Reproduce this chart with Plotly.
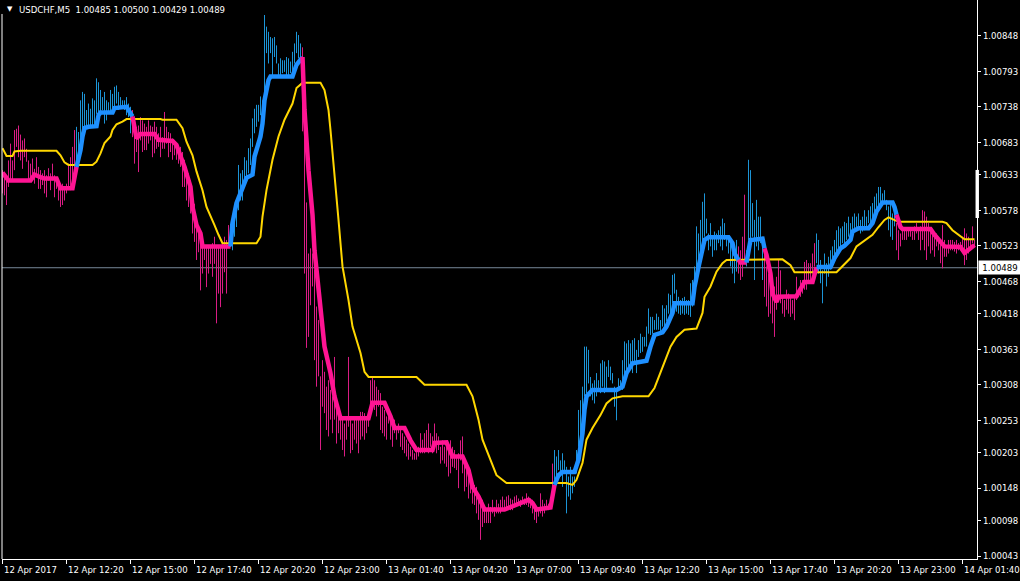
import bisect
import plotly.graph_objects as go

# USDCHF M5, prices in points above 1.00000 (1 point = 0.00001)

# bar highs / lows, one value per M5 bar (index 0 = 12 Apr 09:40)
bar_hi = [640, 637, 632, 655, 681, 655, 702, 704, 709, 695,
          686, 689, 673, 655, 650, 658, 642, 660, 645, 640,
          635, 640, 632, 643, 635, 650, 632, 627, 624, 619,
          619, 614, 619, 650, 660, 676, 702, 707, 699, 748,
          761, 758, 733, 743, 735, 751, 748, 782, 776, 764,
          753, 761, 748, 745, 764, 758, 769, 771, 761, 753,
          748, 748, 753, 743, 738, 733, 712, 707, 709, 722,
          717, 712, 707, 717, 709, 707, 715, 707, 697, 707,
          691, 730, 707, 699, 697, 689, 686, 681, 673, 676,
          668, 656, 645, 635, 624, 604, 588, 552, 542, 537,
          521, 524, 521, 524, 521, 527, 537, 521, 524, 521,
          529, 537, 532, 555, 557, 547, 562, 588, 648, 635,
          640, 660, 655,
          674, 689, 720, 735, 741, 741, 754, 748, 880, 862,
          854, 846, 844, 846, 833, 805, 813, 810, 810, 815,
          813, 808, 823, 836, 854, 849, 836, 830, 760, 590,
          511, 519, 511, 486, 429, 408, 321, 346, 328, 305,
          315, 300, 290, 351, 269, 264, 254, 254, 248, 254,
          351, 254, 248, 254, 259, 254, 266, 266, 264, 254,
          259, 315, 321, 315, 305, 300, 295, 274, 269, 259,
          264, 254, 248, 254, 243, 248, 243, 233, 228, 223,
          217, 212, 207, 202, 207, 212, 233, 223, 233, 238,
          248, 233, 228, 248, 233, 228,
          212, 222, 212, 212, 217, 222, 212, 207, 197, 202,
          222, 228, 191, 186, 181, 176, 161, 153, 150, 140,
          135, 130, 119, 114, 124, 119, 130, 119, 130, 124,
          130, 135, 130, 135, 137, 132, 130, 135, 137, 132,
          130, 135, 132, 140, 135, 132, 130, 119, 119, 114,
          140, 130, 124, 130, 124, 130, 186, 207, 197, 207,
          191, 202, 191, 181, 166, 181, 166, 166, 207,
          269, 284, 305, 367, 367, 362, 320, 310, 315, 326,
          315, 341, 346, 344, 336, 346, 336, 326, 305, 300,
          318, 315, 346, 375, 372, 377, 372, 377, 380, 362,
          377, 387, 382, 382, 398, 426, 413, 413, 408, 418,
          413, 408, 431, 426, 431, 449, 447, 478, 480, 455,
          444, 439, 442, 444, 439, 439,
          465, 470, 491, 553, 542, 563, 591, 604, 565, 542,
          558, 537, 545, 542, 547, 553, 565, 558, 537, 532,
          527, 522, 516, 532, 522, 516, 537, 602, 516, 656,
          640, 589, 563, 594, 568, 568, 537, 516, 491, 480,
          470, 444, 460, 475, 501, 485, 444, 439, 455, 449,
          444, 439, 444, 475, 455, 470, 470, 498, 501, 496,
          496, 511, 527, 542, 532, 501, 485, 511, 496, 506,
          516, 522, 532, 547, 553, 550, 553, 560, 558, 568,
          558, 568, 573, 568, 573, 563, 568, 578, 568, 578,
          584, 589, 599, 604, 614, 614, 604, 609, 594, 584,
          589, 573, 584, 558, 547, 542, 547, 550, 547, 550,
          547, 545, 553, 558, 547, 553, 578, 576, 568, 558,
          547, 547, 537, 542, 537, 532, 555, 532, 522, 532,
          532, 532, 529, 532, 527, 529, 537, 550, 542, 537,
          532, 553, 532]

bar_lo = [604, 601, 586, 614, 622, 624, 640, 676, 660, 655,
          642, 660, 653, 624, 622, 630, 619, 630, 611, 611,
          617, 604, 598, 624, 609, 624, 598, 611, 593, 583,
          586, 593, 604, 609, 609, 611, 624, 645, 650, 671,
          691, 707, 707, 707, 707, 707, 709, 727, 727, 727,
          733, 712, 717, 727, 730, 735, 738, 743, 733, 738,
          735, 733, 725, 722, 697, 691, 650, 668, 637, 686,
          668, 671, 671, 681, 686, 660, 666, 673, 676, 660,
          673, 673, 681, 660, 668, 656, 663, 656, 650, 645,
          614, 614, 593, 583, 573, 542, 529, 501, 513, 454,
          480, 501, 459, 480, 495, 475, 495, 403, 449, 428,
          449, 482, 449, 521, 521, 516, 537, 552, 578, 593,
          593, 614, 624,
          635, 648, 676, 697, 707, 715, 725, 712, 748, 821,
          805, 821, 785, 815, 805, 785, 787, 790, 792, 787,
          785, 790, 785, 805, 821, 813, 815, 700, 480, 365,
          382, 431, 460, 346, 305, 321, 207, 274, 264, 238,
          228, 254, 233, 254, 217, 233, 223, 207, 197, 223,
          243, 202, 207, 223, 217, 202, 223, 228, 223, 233,
          243, 274, 274, 269, 259, 274, 238, 233, 228, 223,
          248, 223, 212, 233, 223, 233, 212, 207, 202, 197,
          192, 197, 192, 192, 192, 197, 202, 202, 202, 207,
          202, 212, 202, 212, 202, 207,
          186, 191, 186, 181, 166, 171, 181, 179, 176, 148,
          191, 171, 143, 150, 132, 140, 124, 122, 109, 99,
          68, 88, 94, 94, 94, 94, 109, 104, 109, 109,
          109, 114, 114, 114, 119, 114, 114, 119, 119, 122,
          119, 124, 122, 122, 119, 117, 109, 99, 94, 104,
          109, 104, 109, 114, 114, 122, 150, 161, 166, 176,
          166, 150, 171, 109, 135, 130, 140, 150, 171,
          212, 222, 243, 290, 295, 310, 290, 284, 279, 290,
          300, 295, 305, 295, 300, 320, 315, 310, 274, 253,
          300, 302, 300, 315, 326, 336, 331, 326, 341, 326,
          351, 357, 359, 367, 367, 387, 385, 387, 393, 393,
          393, 387, 398, 398, 406, 418, 418, 434, 449, 421,
          418, 416, 418, 416, 418, 416,
          413, 429, 444, 475, 485, 491, 522, 537, 542, 516,
          522, 506, 516, 516, 527, 522, 516, 532, 522, 511,
          491, 480, 465, 483, 480, 470, 475, 496, 491, 532,
          532, 537, 470, 522, 516, 527, 470, 444, 429, 413,
          418, 403, 382, 424, 444, 434, 418, 413, 424, 418,
          413, 418, 408, 439, 444, 444, 449, 455, 455, 465,
          470, 480, 491, 496, 480, 465, 434, 480, 460, 475,
          486, 491, 501, 511, 516, 522, 527, 527, 532, 537,
          537, 542, 547, 547, 550, 542, 545, 547, 553, 558,
          555, 563, 568, 573, 578, 584, 586, 589, 578, 547,
          537, 532, 553, 516, 501, 522, 532, 532, 532, 537,
          537, 532, 532, 542, 532, 516, 532, 516, 501, 522,
          511, 516, 506, 522, 516, 496, 488, 506, 506, 511,
          516, 516, 514, 511, 516, 516, 516, 493, 501, 511,
          516, 527, 522]

# step trend line: vertices (bar index, points), split in runs up / down
sig_i = [0, 3, 14, 16, 19, 21, 27, 29, 35, 36,
         37, 39, 40, 41, 43, 47, 48, 49, 55, 56, 62, 64,
         65, 67, 69, 76, 78, 85, 87, 90, 91, 94, 95, 97, 99, 100,
         114, 115, 117, 120, 122, 125, 126, 129, 130, 131, 133, 134, 145, 147,
         150, 151, 153, 155, 156, 157, 159, 161, 164, 166, 169, 183, 185, 191, 194, 196, 201, 204,
         207, 215, 216, 222, 225, 230, 233, 235, 238, 241, 251, 255, 263, 265, 267, 274, 275,
         276, 278, 280, 286, 288, 290, 291, 292, 295, 307, 310, 312, 315, 322, 324, 326, 330, 332,
         335, 336, 345, 346, 348, 350, 351, 353, 363, 365, 366,
         368, 369,
         372, 373, 374, 380,
         381, 382, 384, 385, 387, 388, 397, 399, 401, 405, 406,
         407, 414, 416, 419, 421, 424, 425, 428, 433, 435, 437, 439, 440, 445, 446,
         447, 449, 450, 464, 466, 469, 471, 479, 481, 484, 486]
sig_p = [636, 624, 624, 633, 629, 627, 627, 612, 612, 630,
         645, 671, 692, 705, 707, 708, 725, 729, 729, 736, 738, 728,
         723, 689, 696, 696, 687, 685, 679, 656, 645, 614, 583, 555, 542, 522,
         522, 558, 589, 614, 628, 633, 661, 692, 712, 748, 779, 785, 785, 803,
         815, 733, 640, 571, 516, 485, 424, 367, 326, 290, 256, 256, 280, 280, 259, 241, 241, 222,
         207, 207, 218, 219, 197, 197, 176, 150, 135, 115, 115, 120, 130, 125, 115, 118, 135,
         153, 168, 173, 173, 192, 233, 269, 290, 300, 300, 305, 326, 341, 345, 367, 385, 389, 398,
         419, 434, 434, 459, 490, 516, 532, 536, 536, 527, 511,
         501, 497,
         497, 516, 532, 534,
         519, 509, 480, 449, 436, 444, 445, 457, 467, 467, 483,
         490, 490, 504, 519, 523, 532, 545, 550, 550, 558, 576, 586, 590, 590, 583,
         571, 552, 549, 549, 540, 529, 522, 521, 512, 519, 524]
seg_len = [10, 12, 14, 14, 35, 29, 2, 4, 11, 15, 11]
seg_up = [0, 1, 0, 1, 0, 1, 0, 1, 0, 1, 0]

# yellow slow line
yel_i = [0, 2, 5, 6, 9, 27, 29, 31, 33, 45, 47, 49, 51, 54, 55, 57, 60, 62, 79, 80,
         87, 90, 92, 95, 97, 100, 102, 105, 106, 108, 110, 127, 129, 130, 132, 135, 138, 141, 145, 147,
         150, 159, 161, 163, 164, 168, 170, 173, 175, 179, 181, 183, 207, 211, 232, 235, 238, 240, 244, 247,
         252, 282, 285, 287, 290, 292, 295, 299, 302, 305, 310, 323, 326, 330, 334, 337, 341, 347, 350, 351,
         354, 357, 360, 362, 390, 394, 396, 417, 420, 424, 427, 430, 435, 438, 441, 443, 445, 448, 470, 472,
         475, 479, 481, 486]
yel_p = [674, 662, 662, 669, 670, 670, 663, 652, 648, 648, 653, 666, 682, 692, 702, 711, 715, 719, 719, 718,
         718, 705, 684, 663, 638, 609, 583, 563, 555, 540, 527, 527, 537, 568, 609, 656, 692, 718, 743, 767,
         775, 775, 764, 733, 702, 563, 491, 439, 398, 357, 328, 320, 320, 308, 308, 290, 254, 223, 192, 168,
         156, 156, 153, 161, 187, 223, 241, 261, 279, 287, 290, 290, 303, 336, 367, 382, 393, 395, 419, 444,
         460, 483, 496, 501, 502, 493, 482, 482, 491, 504, 522, 529, 540, 552, 563, 567, 564, 560, 560, 558,
         547, 537, 533, 533]

time_pos = [0, 32, 64, 96, 128, 160, 192, 224, 256, 288, 320, 352, 384, 416, 448, 480]
time_lbl = ["12 Apr 2017", "12 Apr 12:20", "12 Apr 15:00", "12 Apr 17:40", "12 Apr 20:20",
            "12 Apr 23:00", "13 Apr 01:40", "13 Apr 04:20", "13 Apr 07:00", "13 Apr 09:40",
            "13 Apr 12:20", "13 Apr 15:00", "13 Apr 17:40", "13 Apr 20:20", "13 Apr 23:00",
            "14 Apr 01:40"]
price_ticks = [848, 793, 738, 683, 633, 578, 523, 468, 418, 363, 308, 253, 203, 148, 98, 43]
last_price = 489
header = "USDCHF,M5\u00a0\u00a01.00485 1.00500 1.00429 1.00489"

UP_LINE, DN_LINE = "#1E90FF", "#FF1493"
UP_BAR, DN_BAR = "#1C94D6", "#DA1C84"
YELLOW = "#FFD700"
FONT = "DejaVu Sans Condensed, Liberation Sans, sans-serif"


def pr(v):
    return 1 + v / 100000.0


# per-vertex trend flag from the runs
sig_up = []
for n, u in zip(seg_len, seg_up):
    sig_up += [u] * n


def trend(i):
    k = max(bisect.bisect_right(sig_i, i) - 1, 0)
    return sig_up[k]


fig = go.Figure()

# bars, coloured by trend
bx = {0: [], 1: []}
by = {0: [], 1: []}
for i, (h, l) in enumerate(zip(bar_hi, bar_lo)):
    t = trend(i)
    bx[t] += [i, i, None]
    by[t] += [pr(l), pr(h), None]
for t, col in ((1, UP_BAR), (0, DN_BAR)):
    fig.add_trace(go.Scatter(x=bx[t], y=by[t], mode="lines",
                             line=dict(color=col, width=1), hoverinfo="skip"))

fig.add_trace(go.Scatter(x=yel_i, y=[pr(v) for v in yel_p], mode="lines",
                         line=dict(color=YELLOW, width=2)))

# trend line runs
runs = []
cur = None
for i, p, u in zip(sig_i, sig_p, sig_up):
    if u != cur:
        if runs:
            runs[-1][1].append(i)
            runs[-1][2].append(p)
        runs.append([u, [], []])
        cur = u
    runs[-1][1].append(i)
    runs[-1][2].append(p)
for u, xs, ys in runs:
    fig.add_trace(go.Scatter(x=xs, y=[pr(v) for v in ys], mode="lines",
                             line=dict(color=UP_LINE if u else DN_LINE, width=4.5)))

annots = []
for pos, lbl in zip(time_pos, time_lbl):
    annots.append(dict(x=pos, xref="x", y=0, yref="paper", text=lbl, showarrow=False,
                       xanchor="left", yanchor="top", yshift=-3, xshift=-1,
                       font=dict(family=FONT, size=9.5, color="white")))
annots.append(dict(x=1, xref="paper", y=pr(last_price), yref="y", text="1.%05d" % last_price,
                   showarrow=False, xanchor="left", yanchor="middle", xshift=1, width=40, height=11,
                   bgcolor="white", font=dict(family=FONT, size=9.5, color="black")))
annots.append(dict(x=0, xref="paper", y=1, yref="paper", text=header, showarrow=False,
                   xanchor="left", yanchor="top", xshift=15, yshift=-2, bgcolor="black",
                   font=dict(family=FONT, size=9.5, color="white")))
annots.append(dict(x=0, xref="paper", y=1, yref="paper", text="\u25bc", showarrow=False,
                   xanchor="left", yanchor="top", xshift=3, yshift=-3,
                   font=dict(family="DejaVu Sans", size=7, color="white")))

shapes = [
    dict(type="line", xref="paper", x0=0, x1=1, yref="y", y0=pr(last_price), y1=pr(last_price),
         line=dict(color="#778899", width=1), layer="below"),
    dict(type="line", xref="paper", x0=0, x1=0, yref="paper", y0=0, y1=0.975,
         line=dict(color="white", width=1)),
    dict(type="rect", xref="paper", x0=0.9985, x1=1.002, yref="paper", y0=0.61, y1=0.696,
         fillcolor="white", line=dict(width=0)),
]

fig.update_layout(
    width=1020, height=581,
    margin=dict(l=2, r=43, t=0, b=22),
    paper_bgcolor="black", plot_bgcolor="black",
    showlegend=False,
    annotations=annots, shapes=shapes,
    xaxis=dict(range=[-0.25, 487.25], showgrid=False, zeroline=False,
               tickvals=time_pos, showticklabels=False, ticks="outside", ticklen=4,
               tickcolor="white", showline=True, linecolor="white", linewidth=1),
    yaxis=dict(range=[pr(38.4), pr(903.2)], side="right", showgrid=False, zeroline=False,
               tickvals=[pr(v) for v in price_ticks], ticktext=["1.%05d" % v for v in price_ticks],
               ticks="outside", ticklen=3, tickcolor="white", showline=True, linecolor="white",
               linewidth=1, tickfont=dict(family=FONT, size=9.5, color="white")),
)

fig.write_html("out.html", config={"displayModeBar": False},
               post_script="document.body.style.margin='0px';")
